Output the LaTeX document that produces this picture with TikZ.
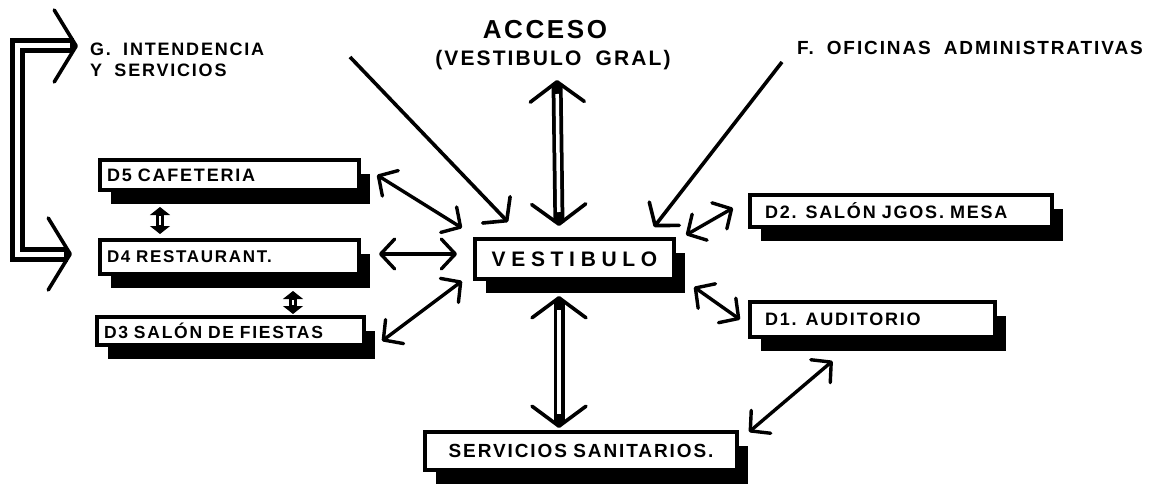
\documentclass[tikz,border=0pt]{standalone}
\usepackage{fontspec}
\usetikzlibrary{arrows.meta, calc, shadows}
\newfontfamily\handfont[LetterSpace=10, WordSpace=1.8]{Liberation Sans}

\tikzset{
  room/.style={draw, line width=4pt, fill=white, anchor=north west, align=left,
    inner xsep=7pt, inner ysep=0pt, font=\handfont\bfseries\fontsize{18}{21}\selectfont,
    drop shadow={shadow xshift=11pt, shadow yshift=-14pt, fill=black, opacity=1}},
  caption/.style={inner sep=0pt, font=\handfont\bfseries\fontsize{18}{21}\selectfont},
  link/.style={line width=3.4pt,
    {Straight Barb[length=14pt,width=30pt,round]}-{Straight Barb[length=14pt,width=30pt,round]}},
  inarrow/.style={line width=3.6pt, -{Straight Barb[length=15pt,width=38pt,round]}},
  wide/.style={line width=11pt,
    {Straight Barb[length=20pt,width=54pt,line width=3.6pt,round]}-{Straight Barb[length=20pt,width=54pt,line width=3.6pt,round]},
    postaction={draw=white, line width=3.5pt, arrows=-, shorten <=14pt, shorten >=14pt}},
  twin/.style={line width=8pt,
    {Triangle[length=8pt,width=20pt,line width=1pt]}-{Triangle[length=8pt,width=20pt,line width=1pt]},
    postaction={draw=white, line width=2.5pt, arrows=-, shorten <=9pt, shorten >=9pt}},
  bracket/.style={line width=15pt,
    {Straight Barb[length=22pt,width=72pt,line width=3.6pt,round]}-{Straight Barb[length=22pt,width=72pt,line width=3.6pt,round]},
    postaction={draw=white, line width=5pt, arrows=-, shorten <=8pt, shorten >=8pt}}
}

\begin{document}
\begin{tikzpicture}[x=1pt, y=-1pt]
  \useasboundingbox (0,0) rectangle (1165,484);

  % rooms
  \node[room, minimum width=259pt, minimum height=30pt, text width=245pt] (d5) at (98,158) {D5 CAFETERIA};
  \node[room, minimum width=259pt, minimum height=34pt, text width=245pt,
        font=\handfont\bfseries\fontsize{17}{21}\selectfont] (d4) at (98,238) {D4 RESTAURANT.};
  \node[room, minimum width=267pt, minimum height=28pt, text width=253pt,
        font=\handfont\bfseries\fontsize{17.5}{21}\selectfont] (d3) at (95,315) {D3 SALÓN DE FIESTAS};
  \node[room, minimum width=199pt, minimum height=40pt, text width=185pt, align=center,
        font=\handfont\bfseries\addfontfeatures{LetterSpace=27}\fontsize{21}{24}\selectfont] (vest) at (473,237) {VESTIBULO};
  \node[room, inner xsep=15pt, minimum width=302pt, minimum height=32pt, text width=272pt] (d2) at (748,193) {D2. SALÓN JGOS. MESA};
  \node[room, inner xsep=15pt, minimum width=245pt, minimum height=35pt, text width=215pt] (d1) at (748,300) {D1. AUDITORIO};
  \node[room, minimum width=312pt, minimum height=38pt, text width=298pt, align=center,
        font=\handfont\bfseries\fontsize{19}{22}\selectfont] (serv) at (423,430) {SERVICIOS SANITARIOS.};

  % captions
  \node[caption, anchor=north west, align=left] (gint) at (90,43) {G. INTENDENCIA\\Y SERVICIOS};
  \node[caption, anchor=base, font=\handfont\bfseries\fontsize{26}{30}\selectfont] (acc) at (545,39) {ACCESO};
  \node[caption, anchor=base, font=\handfont\bfseries\fontsize{21}{25}\selectfont] (gral) at (553,66) {(VESTIBULO GRAL)};
  \node[caption, anchor=base west, font=\handfont\bfseries\fontsize{19}{22}\selectfont] (ofi) at (797,55) {F. OFICINAS ADMINISTRATIVAS};

  \coordinate (nwin) at (350,57);
  \coordinate (ofiin) at ($(ofi.base west)+(-15,7)$);

  % connectors
  \draw[inarrow] (nwin) -- ($(vest.north west)+(35,-15)$);
  \draw[inarrow] (ofiin) -- ($(vest.north east)+(-22,-10)$);
  \draw[wide] ($(gral.base)+(4,14)$) -- ($(vest.north)+(-15.5,-11)$);
  \draw[wide] ($(vest.south)+(-15.5,15)$) -- ($(serv.north)+(-22,-2)$);

  \draw[link] ($(d5.east)+(16,0)$) -- ($(vest.north west)+(-11,-9)$);
  \draw[link] ($(d4.east)+(18,-3)$) -- ($(vest.west)+(-16,-5)$);
  \draw[link] ($(d3.east)+(16,10)$) -- ($(vest.south west)+(-11,0)$);
  \draw[link] ($(vest.north east)+(10,-2)$) -- ($(d2.west)+(-15,-3)$);
  \draw[link] ($(vest.south east)+(18,6)$) -- ($(d1.west)+(-8,0)$);
  \draw[link] ($(d1.south)+(-40,22)$) -- ($(serv.north east)+(10,2)$);

  \draw[twin] ($(d5.south west)+(62,15)$) -- ($(d4.north west)+(62,-4)$);
  \draw[twin] ($(d4.south west)+(195,15)$) -- ($(d3.north west)+(198,-1)$);

  \draw[bracket] ($(gint.north west)+(-12,3)$) -- ++(-61,0) |- ($(d4.west)+(-26,-3)$);
\end{tikzpicture}
\end{document}
